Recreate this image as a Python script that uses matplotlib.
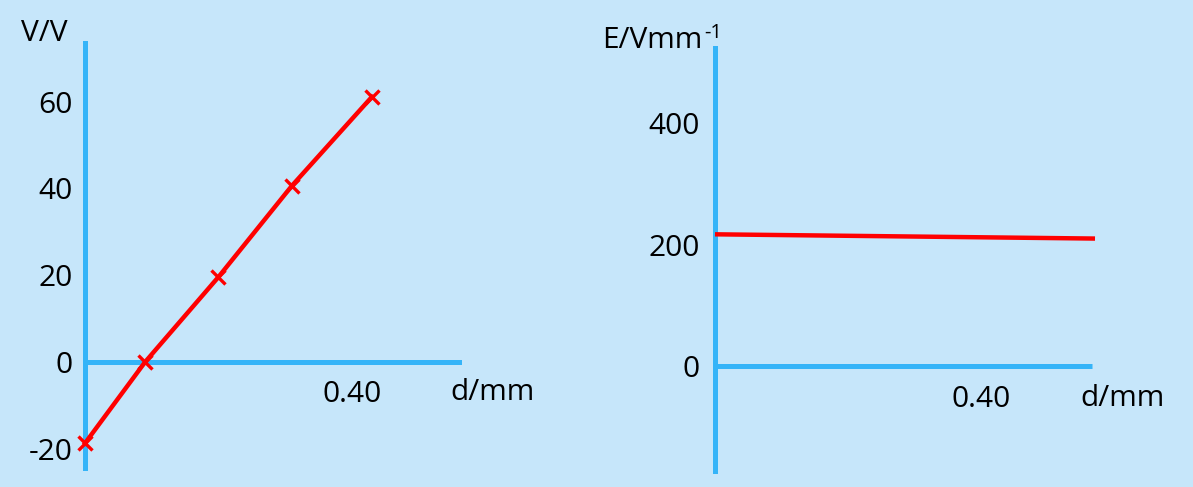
import matplotlib
matplotlib.use("Agg")
import matplotlib.pyplot as plt

# ---- data ----
d_left = [0.0, 0.09, 0.20, 0.31, 0.43]          # d/mm
V_left = [-18.7, 0.0, 19.6, 40.6, 61.1]         # V/V
v_ticks = [60, 40, 20, 0, -20]
v_ticklabels = ["60", "40", "20", "0", "-20"]

d_right = [0.0, 0.572]                           # d/mm
E_right = [217, 210]                             # E / V mm^-1
e_ticks = [400, 200, 0]
e_ticklabels = ["400", "200", "0"]

x_label_tick = 0.40
x_label_text = "0.40"

BG = "#c6e6fa"
AX = "#35b4f8"
RED = "#ff0000"
FONT = "Open Sans"

plt.rcParams["font.family"] = [FONT, "DejaVu Sans"]

W, H = 1193, 487
fig = plt.figure(figsize=(W / 100, H / 100), dpi=100, facecolor=BG)


def px_axes(x0, x1, ytop, ybot):
    return fig.add_axes([x0 / W, (H - ybot) / H, (x1 - x0) / W, (ybot - ytop) / H])


FS = 21.5

# ---- left panel ----
axL = px_axes(85, 462, 43, 468)
axL.set_facecolor("none")
axL.set_xlim(0, 0.565)
axL.set_ylim(-24.4, 73.5)
for s in ["top", "right", "bottom"]:
    axL.spines[s].set_visible(False)
axL.spines["left"].set_color(AX)
axL.spines["left"].set_linewidth(3.6)
axL.axhline(0, color=AX, lw=3.6, zorder=1)
axL.set_xticks([])
axL.set_yticks(v_ticks)
axL.set_yticklabels(v_ticklabels, fontsize=FS)
axL.tick_params(axis="y", length=0, pad=9)
axL.plot(d_left, V_left, color=RED, lw=3.2, marker="x", ms=10, mew=2.4,
         zorder=3, clip_on=False)
axL.text(x_label_tick, -7.4, x_label_text, fontsize=FS, ha="center", va="center")
fig.text(492 / W, 1 - 393 / H, "d/mm", fontsize=FS, ha="center", va="center")
fig.text(44 / W, 1 - 33 / H, "V/V", fontsize=FS, ha="center", va="center")

# ---- right panel ----
axR = px_axes(715, 1097, 48, 471)
axR.set_facecolor("none")
axR.set_xlim(0, 0.575)
axR.set_ylim(-173, 524)
for s in ["top", "right", "bottom"]:
    axR.spines[s].set_visible(False)
axR.spines["left"].set_color(AX)
axR.spines["left"].set_linewidth(3.6)
axR.plot([0, 0.567], [0, 0], color=AX, lw=3.6, zorder=1, solid_capstyle="butt")
axR.set_xticks([])
axR.set_yticks(e_ticks)
axR.set_yticklabels(e_ticklabels, fontsize=FS)
axR.tick_params(axis="y", length=0, pad=11)
axR.plot(d_right, E_right, color=RED, lw=3.2, zorder=3, clip_on=False,
         solid_capstyle="butt")
axR.text(x_label_tick, -56, x_label_text, fontsize=FS, ha="center", va="center")
fig.text(1122 / W, 1 - 398 / H, "d/mm", fontsize=FS, ha="center", va="center")
fig.text(602 / W, 1 - 48 / H, "E/Vmm", fontsize=FS, ha="left", va="baseline")
fig.text(704 / W, 1 - 38 / H, "-1", fontsize=FS * 0.68, ha="left", va="baseline")

fig.savefig("out.png", dpi=100, facecolor=BG)
